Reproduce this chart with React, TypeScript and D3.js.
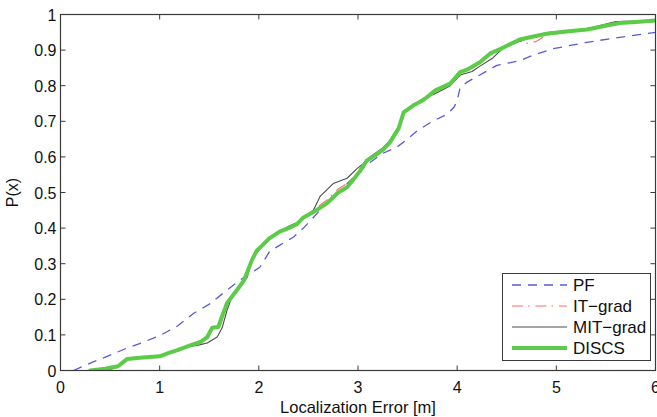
import React from "react";
import * as d3 from "d3";

// localization error [m] vs cumulative probability
const pfData: [number, number][] = [
  [0.13, 0], [0.33, 0.024], [0.5, 0.043], [0.67, 0.063], [0.84, 0.08], [1.0, 0.098],
  [1.18, 0.125], [1.34, 0.16], [1.51, 0.188], [1.68, 0.226], [1.81, 0.254], [2.01, 0.29],
  [2.11, 0.335], [2.2, 0.35], [2.35, 0.375], [2.45, 0.4], [2.6, 0.445], [2.8, 0.5],
  [3.0, 0.555], [3.1, 0.58], [3.25, 0.61], [3.39, 0.627], [3.49, 0.648], [3.6, 0.674],
  [3.75, 0.7], [3.9, 0.72], [3.97, 0.74], [4.0, 0.758], [4.03, 0.795], [4.1, 0.81],
  [4.28, 0.838], [4.4, 0.857], [4.63, 0.87], [4.76, 0.885], [4.97, 0.904], [5.31, 0.922],
  [5.64, 0.936], [6.0, 0.95],
];

const itGradData: [number, number][] = [
  [0.3, 0], [0.45, 0.005], [0.58, 0.01], [0.66, 0.03], [0.75, 0.035], [1.0, 0.04],
  [1.1, 0.05], [1.21, 0.06], [1.3, 0.068], [1.41, 0.077], [1.49, 0.092], [1.54, 0.122],
  [1.61, 0.125], [1.68, 0.185], [1.77, 0.215], [1.85, 0.25], [1.93, 0.315], [2.03, 0.35],
  [2.1, 0.37], [2.21, 0.39], [2.3, 0.4], [2.38, 0.41], [2.45, 0.43], [2.55, 0.45],
  [2.69, 0.48], [2.8, 0.51], [2.89, 0.525], [2.95, 0.54], [3.02, 0.565], [3.09, 0.59],
  [3.15, 0.6], [3.25, 0.62], [3.32, 0.64], [3.41, 0.68], [3.46, 0.725], [3.56, 0.745],
  [3.66, 0.76], [3.78, 0.787], [3.93, 0.806], [4.03, 0.838], [4.1, 0.845], [4.23, 0.866],
  [4.33, 0.89], [4.45, 0.905], [4.63, 0.925], [4.72, 0.918], [4.8, 0.925], [4.9, 0.942],
  [5.1, 0.95], [5.31, 0.958], [5.45, 0.966], [5.57, 0.974], [5.8, 0.978], [6.0, 0.981],
];

const mitGradData: [number, number][] = [
  [0.35, 0], [0.5, 0.003], [0.58, 0.01], [0.65, 0.03], [0.75, 0.035], [1.0, 0.04],
  [1.1, 0.048], [1.21, 0.058], [1.28, 0.066], [1.4, 0.072], [1.48, 0.077], [1.58, 0.094],
  [1.63, 0.12], [1.68, 0.17], [1.74, 0.216], [1.82, 0.24], [1.88, 0.26], [1.93, 0.31],
  [2.03, 0.35], [2.12, 0.375], [2.21, 0.39], [2.3, 0.405], [2.38, 0.415], [2.45, 0.43],
  [2.55, 0.45], [2.62, 0.49], [2.75, 0.525], [2.89, 0.54], [2.99, 0.567], [3.05, 0.58],
  [3.12, 0.6], [3.25, 0.625], [3.32, 0.645], [3.41, 0.685], [3.46, 0.725], [3.56, 0.745],
  [3.66, 0.765], [3.76, 0.775], [3.83, 0.785], [3.93, 0.8], [4.03, 0.83], [4.15, 0.84],
  [4.23, 0.855], [4.36, 0.878], [4.46, 0.905], [4.63, 0.925], [4.93, 0.95], [5.31, 0.96],
  [5.6, 0.98], [6.0, 0.982],
];

const discsData: [number, number][] = [
  [0.3, 0], [0.45, 0.005], [0.58, 0.012], [0.67, 0.032], [0.8, 0.036], [1.0, 0.04],
  [1.1, 0.05], [1.18, 0.057], [1.3, 0.07], [1.41, 0.08], [1.48, 0.094], [1.53, 0.12],
  [1.59, 0.122], [1.64, 0.16], [1.68, 0.19], [1.78, 0.226], [1.85, 0.253], [1.93, 0.31],
  [1.98, 0.337], [2.03, 0.35], [2.1, 0.37], [2.21, 0.39], [2.3, 0.4], [2.38, 0.41],
  [2.45, 0.43], [2.55, 0.445], [2.69, 0.47], [2.8, 0.5], [2.89, 0.515], [2.95, 0.535],
  [3.02, 0.56], [3.09, 0.59], [3.15, 0.6], [3.25, 0.62], [3.32, 0.64], [3.41, 0.68],
  [3.46, 0.725], [3.56, 0.745], [3.66, 0.76], [3.78, 0.787], [3.93, 0.806], [4.03, 0.838],
  [4.1, 0.845], [4.23, 0.866], [4.33, 0.89], [4.45, 0.905], [4.63, 0.93], [4.9, 0.946],
  [5.1, 0.952], [5.31, 0.958], [5.51, 0.969], [5.64, 0.976], [5.8, 0.979], [6.0, 0.983],
];

const xTicks = [0, 1, 2, 3, 4, 5, 6];
const yTicks = [0, 0.1, 0.2, 0.3, 0.4, 0.5, 0.6, 0.7, 0.8, 0.9, 1];

const series = [
  { name: "PF", data: pfData, color: "#5a5ad6", width: 1.3, dash: "9,7" },
  { name: "IT\u2212grad", data: itGradData, color: "#ff6a6a", width: 1.2, dash: "11,5,1.5,6" },
  { name: "MIT\u2212grad", data: mitGradData, color: "#4a4a4a", width: 1.1, dash: "" },
  { name: "DISCS", data: discsData, color: "#5ccb48", width: 4, dash: "" },
];

const W = 657;
const H = 417;
const left = 60.5, right = 655.5, top = 14.5, bottom = 370.5;

export default function App() {
  const x = d3.scaleLinear().domain([0, 6]).range([left, right]);
  const y = d3.scaleLinear().domain([0, 1]).range([bottom, top]);
  const line = d3
    .line<[number, number]>()
    .x((d) => x(d[0]))
    .y((d) => y(d[1]));

  const font = "'Liberation Sans', Arial, sans-serif";
  const tick = 5;
  const axisColor = "#3a3a3a";

  return (
    <svg
      width={W}
      height={H}
      style={{ position: "absolute", left: 0, top: 0, background: "#fff" }}
      fontFamily={font}
    >
      <defs>
        <clipPath id="plot">
          <rect x={left} y={top - 3} width={right - left} height={bottom - top + 3} />
        </clipPath>
      </defs>

      {/* plot lines */}
      <g clipPath="url(#plot)" fill="none" strokeLinejoin="round">
        {series.map((s) => (
          <path
            key={s.name}
            d={line(s.data) || ""}
            stroke={s.color}
            strokeWidth={s.width}
            strokeDasharray={s.dash || undefined}
            strokeLinecap={s.dash ? "butt" : "round"}
          />
        ))}
      </g>

      {/* box and ticks */}
      <rect
        x={left}
        y={top}
        width={right - left}
        height={bottom - top}
        fill="none"
        stroke={axisColor}
        strokeWidth={1.2}
      />
      {xTicks.map((t) => (
        <g key={"x" + t} stroke={axisColor} strokeWidth={1}>
          <line x1={x(t)} x2={x(t)} y1={bottom} y2={bottom - tick} />
          <line x1={x(t)} x2={x(t)} y1={top} y2={top + tick} />
        </g>
      ))}
      {yTicks.map((t) => (
        <g key={"y" + t} stroke={axisColor} strokeWidth={1}>
          <line x1={left} x2={left + tick} y1={y(t)} y2={y(t)} />
          <line x1={right} x2={right - tick} y1={y(t)} y2={y(t)} />
        </g>
      ))}
      {xTicks.map((t) => (
        <text key={"xl" + t} x={x(t)} y={bottom + 22} fontSize={16} textAnchor="middle" fill="#111">
          {d3.format("d")(t)}
        </text>
      ))}
      {yTicks.map((t) => (
        <text key={"yl" + t} x={left - 4} y={y(t) + 6} fontSize={16} textAnchor="end" fill="#111">
          {t === 0 || t === 1 ? String(t) : d3.format(".1f")(t)}
        </text>
      ))}

      <text x={358} y={413} fontSize={16.5} textAnchor="middle" fill="#111">
        Localization Error [m]
      </text>
      <text
        transform={`translate(18,${(top + bottom) / 2}) rotate(-90)`}
        fontSize={16}
        textAnchor="middle"
        fill="#111"
      >
        P(x)
      </text>

      {/* legend */}
      <g>
        <rect x={502.5} y={273.5} width={148} height={87} fill="#fff" stroke={axisColor} strokeWidth={1} />
        {series.map((s, i) => {
          const ly = 285 + i * 21;
          return (
            <g key={"lg" + s.name}>
              <line
                x1={512}
                x2={567}
                y1={ly}
                y2={ly}
                stroke={s.color}
                strokeWidth={s.width}
                strokeDasharray={s.dash || undefined}
              />
              <text x={573} y={ly + 6} fontSize={17} fill="#111">
                {s.name}
              </text>
            </g>
          );
        })}
      </g>
    </svg>
  );
}
